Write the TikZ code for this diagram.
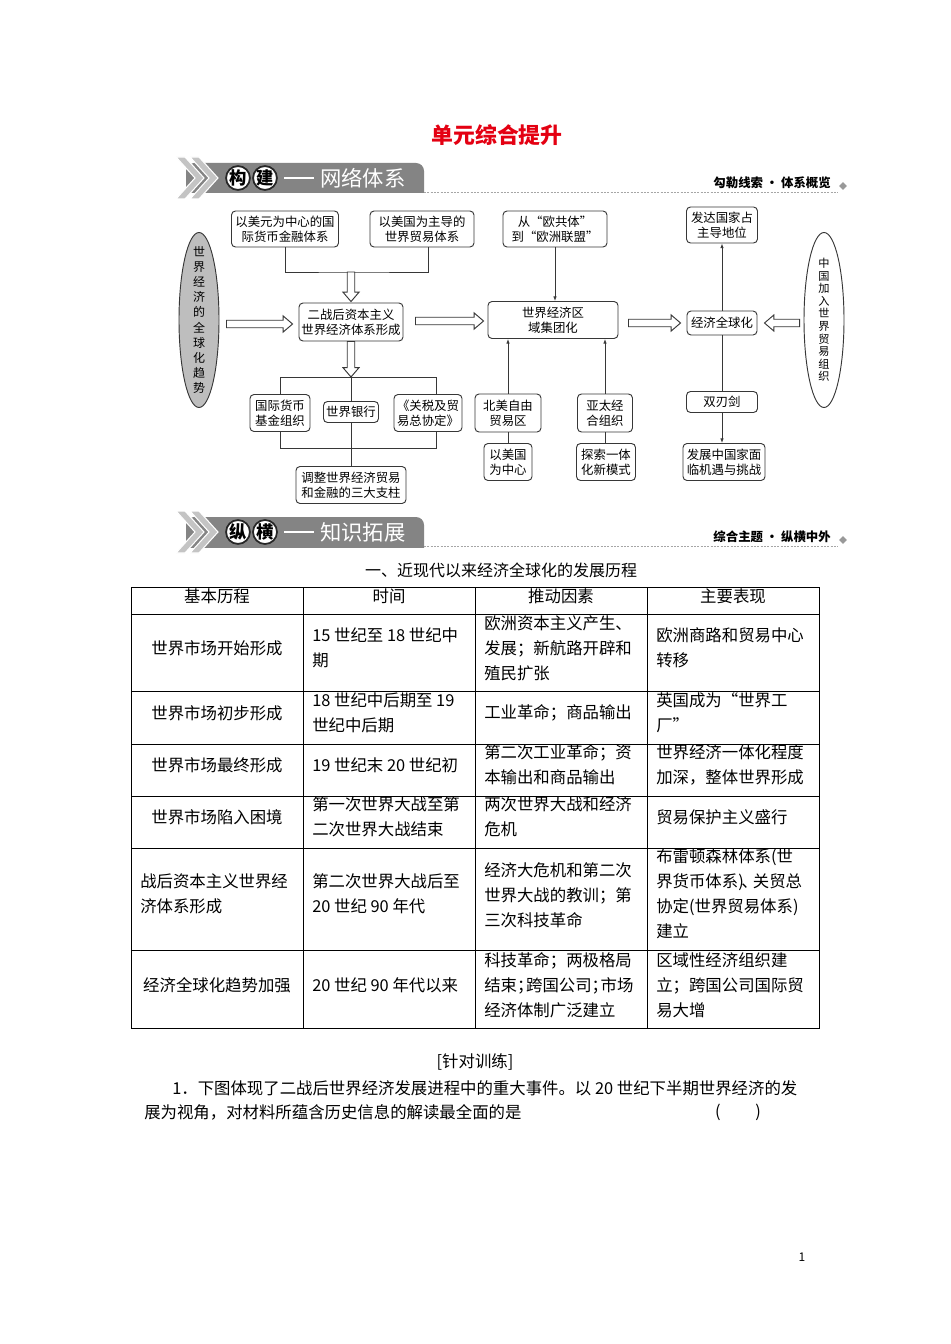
\documentclass[tikz,border=0pt]{standalone}
\usepackage{fontspec}
\setmainfont{Noto Sans CJK SC}
\usetikzlibrary{calc,shapes.geometric,arrows.meta}
\definecolor{titlered}{RGB}{228,0,18}
\definecolor{bandgray}{RGB}{132,132,132}
\definecolor{chevgray}{RGB}{196,196,196}
\definecolor{linec}{RGB}{55,55,55}
\definecolor{ellgray}{RGB}{190,190,190}
\pgfdeclarelayer{bg}
\pgfsetlayers{bg,main}
\newcommand\dfont{\fontsize{9.3pt}{11.3pt}\selectfont}
\newcommand\tfont{\fontsize{12.3pt}{18.75pt}\selectfont}
\tikzset{
  box/.style={draw=linec, line width=0.7pt, rounded corners=3pt, fill=white, align=center, font=\dfont, inner sep=1pt},
  sz/.style 2 args={minimum width=#1*0.75pt, minimum height=#2*0.75pt},
  conn/.style={draw=linec, line width=0.6pt},
  arr/.style={conn, -{Latex[length=3.5pt,width=2.6pt]}},
  harrow/.style={draw=linec, line width=0.7pt, fill=white},
  cell/.style={font=\tfont, align=left, inner sep=0pt},
  ccell/.style={font=\tfont, align=center, inner sep=0pt},
  gridline/.style={draw=black, line width=0.7pt},
  circ/.style={circle, fill=white, draw=black!85, line width=1.3pt, inner sep=0pt, minimum size=16.5pt, font=\fontsize{13pt}{13pt}\selectfont\bfseries},
  chev/.style={fill=chevgray, draw=white, line width=0.8pt},
}
\newcommand\hollow[2]{%
  \coordinate (hA) at (#1); \coordinate (hB) at (#2);
  \coordinate (hC) at ($(hB)!7pt!(hA)$);
  \draw[harrow] ($(hA)!2.8pt!90:(hB)$) -- ($(hC)!2.8pt!-90:(hA)$) -- ($(hC)!6pt!-90:(hA)$) -- (hB) -- ($(hC)!6pt!90:(hA)$) -- ($(hC)!2.8pt!90:(hA)$) -- ($(hA)!2.8pt!-90:(hB)$) -- cycle;}
\newcommand\mybanner[6]{%
  \begin{scope}[shift={(0,#1)}]
    \begin{scope}
      \clip (180,150) rectangle (430,193);
      \fill[bandgray, rounded corners=6pt] (186,163) rectangle (424,215);
    \end{scope}
    \draw[chev] (176,157) -- (185,157) -- (204,178) -- (185,199) -- (176,199) -- (195,178) -- cycle;
    \draw[chev] (190,157) -- (199,157) -- (218,178) -- (199,199) -- (190,199) -- (209,178) -- cycle;
    \node[circ] (#2a) at (238,178) {#3};
    \node[circ] (#2b) at (265,178) {#4};
    \draw[white, line width=1.3pt] (284,178) -- (314,178);
    \node[anchor=west, text=white, inner sep=0pt, font=\fontsize{16pt}{16pt}\selectfont] (#2c) at (320,178) {#5};
    \draw[gray!70, line width=0.5pt, dash pattern=on 1.5pt off 1pt] (424,192) -- (838,192);
    \node[anchor=east, inner sep=0pt, font=\fontsize{9.3pt}{9.3pt}\selectfont\bfseries] (#2d) at (831,183) {#6};
    \node[diamond, fill=gray!80, inner sep=0pt, minimum size=6pt] (#2e) at (843,186) {};
  \end{scope}}
\begin{document}
\begin{tikzpicture}[x=0.75pt, y=-0.75pt]
\useasboundingbox (0,0) rectangle (950,1344);
\begin{pgfonlayer}{bg}
\fill[white] (0,0) rectangle (950,1344);
\end{pgfonlayer}

\node[font=\fontsize{16.4pt}{18pt}\selectfont\bfseries, text=titlered] (title) at (497,135) {单元综合提升};

\mybanner{0}{bA}{构}{建}{网络体系}{勾勒线索 · 体系概览}
\mybanner{354}{bB}{纵}{横}{知识拓展}{综合主题 · 纵横中外}

% ---------- diagram ----------
\node[box, sz={107}{36}] (A1) at (285,229) {以美元为中心的国\\际货币金融体系};
\node[box, sz={104}{36}] (A2) at (422,229) {以美国为主导的\\世界贸易体系};
\node[box, sz={104}{36}] (A3) at (555,229) {从“欧共体”\\到“欧洲联盟”};
\node[box, sz={71}{36}] (A4) at (722,225) {发达国家占\\主导地位};

\node[ellipse, draw=linec, line width=0.7pt, fill=ellgray, sz={40}{175}] (ellL) at (199,320) {};
\node[font=\fontsize{9pt}{11.3pt}\selectfont, align=center, inner sep=0pt] (ellLt) at (ellL.center) {世\\界\\经\\济\\的\\全\\球\\化\\趋\\势};
\node[ellipse, draw=linec, line width=0.7pt, fill=white, sz={40}{175}] (ellR) at (824,320) {};
\node[font=\fontsize{8.4pt}{9.45pt}\selectfont, align=center, inner sep=0pt] (ellRt) at (ellR.center) {中\\国\\加\\入\\世\\界\\贸\\易\\组\\织};

\node[box, sz={104}{38}] (B1) at (351,322) {二战后资本主义\\世界经济体系形成};
\node[box, sz={130}{37}] (B2) at (553,320) {世界经济区\\域集团化};
\node[box, sz={70}{24}] (B3) at (722,323) {经济全球化};

\node[box, sz={60}{37}] (C1) at (280,413) {国际货币\\基金组织};
\node[box, sz={55}{21}] (C2) at (351,412) {世界银行};
\node[box, sz={68}{37}] (C3) at (428,413) {《关税及贸\\易总协定》};
\node[box, sz={110}{37}] (D1) at (351,485) {调整世界经济贸易\\和金融的三大支柱};

\node[box, sz={66}{38}] (E1) at (508,413) {北美自由\\贸易区};
\node[box, sz={48}{37}] (E2) at (508,462) {以美国\\为中心};
\node[box, sz={55}{38}] (F1) at (605,413) {亚太经\\合组织};
\node[box, sz={59}{37}] (F2) at (606,462) {探索一体\\化新模式};
\node[box, sz={71}{21}] (G1) at (722,402) {双刃剑};
\node[box, sz={82}{37}] (G2) at (724,462) {发展中国家面\\临机遇与挑战};

\coordinate (jT) at (351,272);
\coordinate (jB) at (351,377);
\coordinate (a2b) at ($(A2.south)+(6,0)$);
\coordinate (bk1) at (280,377);
\coordinate (bk2) at (436,448);

\begin{pgfonlayer}{bg}
  \draw[conn] (A1.south) |- (jT) -| (a2b);
  \draw[conn] (bk1) rectangle (bk2);
  \draw[conn] (jB) -- (D1.north);
\end{pgfonlayer}

\hollow{jT}{$(B1.north)+(0,-1)$}
\hollow{B1.south}{jB}
\hollow{$(ellL.east)+(7,4)$}{$(B1.west)+(-6,2)$}
\hollow{$(B1.east)+(12,-1)$}{$(B2.west)+(-4,1)$}
\hollow{$(B2.east)+(10,3)$}{$(B3.west)+(-6,0)$}
\hollow{$(ellR.west)+(-4,3)$}{$(B3.east)+(7,0)$}

\draw[arr] (A3.south) -- (A3.south |- B2.north);
\draw[arr] (E1.north) -- (E1.north |- B2.south);
\draw[conn] (E1.south) -- (E1.south |- E2.north);
\draw[arr] (F1.north) -- (F1.north |- B2.south);
\draw[conn] (F1.south) -- (F1.south |- F2.north);
\draw[arr] (B3.north) -- (B3.north |- A4.south);
\draw[conn] (B3.south) -- (B3.south |- G1.north);
\draw[arr] (G1.south) -- (G1.south |- G2.north);

% ---------- table ----------
\node[font=\fontsize{12pt}{14pt}\selectfont] (thead) at (501,570) {一、近现代以来经济全球化的发展历程};
\draw[gridline] (131,587) rectangle (819,1028);
\foreach \xx in {303,475,647} \draw[gridline] (\xx,587) -- (\xx,1028);
\foreach \yy in {614,691,744,796,848,950} \draw[gridline] (131,\yy) -- (819,\yy);

\node[ccell] (h1) at (217,596) {基本历程};
\node[ccell] (h2) at (389,596) {时间};
\node[ccell] (h3) at (561,596) {推动因素};
\node[ccell] (h4) at (733,596) {主要表现};

\node[ccell] (r1c1) at (217,648) {世界市场开始形成};
\node[cell, anchor=west] (r1c2) at (312,648) {15 世纪至 18 世纪中\\期};
\node[cell, anchor=west] (r1c3) at (484,648) {欧洲资本主义产生、\\发展；新航路开辟和\\殖民扩张};
\node[cell, anchor=west] (r1c4) at (656,648) {欧洲商路和贸易中心\\转移};

\node[ccell] (r2c1) at (217,713) {世界市场初步形成};
\node[cell, anchor=west] (r2c2) at (312,713) {18 世纪中后期至 19\\世纪中后期};
\node[cell, anchor=west] (r2c3) at (484,713) {工业革命；商品输出};
\node[cell, anchor=west] (r2c4) at (656,713) {英国成为“世界工\\厂”};

\node[ccell] (r3c1) at (217,765) {世界市场最终形成};
\node[cell, anchor=west] (r3c2) at (312,765) {19 世纪末 20 世纪初};
\node[cell, anchor=west] (r3c3) at (484,765) {第二次工业革命；资\\本输出和商品输出};
\node[cell, anchor=west] (r3c4) at (656,765) {世界经济一体化程度\\加深，整体世界形成};

\node[ccell] (r4c1) at (217,817) {世界市场陷入困境};
\node[cell, anchor=west] (r4c2) at (312,817) {第一次世界大战至第\\二次世界大战结束};
\node[cell, anchor=west] (r4c3) at (484,817) {两次世界大战和经济\\危机};
\node[cell, anchor=west] (r4c4) at (656,817) {贸易保护主义盛行};

\node[cell, anchor=west] (r5c1) at (140,894) {战后资本主义世界经\\济体系形成};
\node[cell, anchor=west] (r5c2) at (312,894) {第二次世界大战后至\\20 世纪 90 年代};
\node[cell, anchor=west] (r5c3) at (484,895) {经济大危机和第二次\\世界大战的教训；第\\三次科技革命};
\node[cell, anchor=west] (r5c4) at (656,894) {布雷顿森林体系(世\\界货币体系)\kern-.15em、\kern-.3em关贸总\\协定(世界贸易体系)\\建立};

\node[ccell] (r6c1) at (217,985) {经济全球化趋势加强};
\node[cell, anchor=west] (r6c2) at (312,985) {20 世纪 90 年代以来};
\node[cell, anchor=west] (r6c3) at (484,985) {科技革命；两极格局\\结束；\kern-.45em跨国公司；\kern-.45em市场\\经济体制广泛建立};
\node[cell, anchor=west] (r6c4) at (656,985) {区域性经济组织建\\立；跨国公司国际贸\\易大增};

% ---------- question ----------
\node[font=\tfont] (qhead) at (475,1062) {[针对训练]};
\node[font=\tfont, anchor=west, inner sep=0pt] (q1) at (172,1088) {1．下图体现了二战后世界经济发展进程中的重大事件。以 20 世纪下半期世界经济的发};
\node[font=\tfont, anchor=west, inner sep=0pt] (q2) at (144,1112) {展为视角，对材料所蕴含历史信息的解读最全面的是};
\node[font=\tfont, inner sep=0pt] (q3) at (738,1112) {(\hspace{26pt})};
\node[font=\fontsize{9pt}{10pt}\selectfont] (pnum) at (802,1257) {1};
\end{tikzpicture}
\end{document}
